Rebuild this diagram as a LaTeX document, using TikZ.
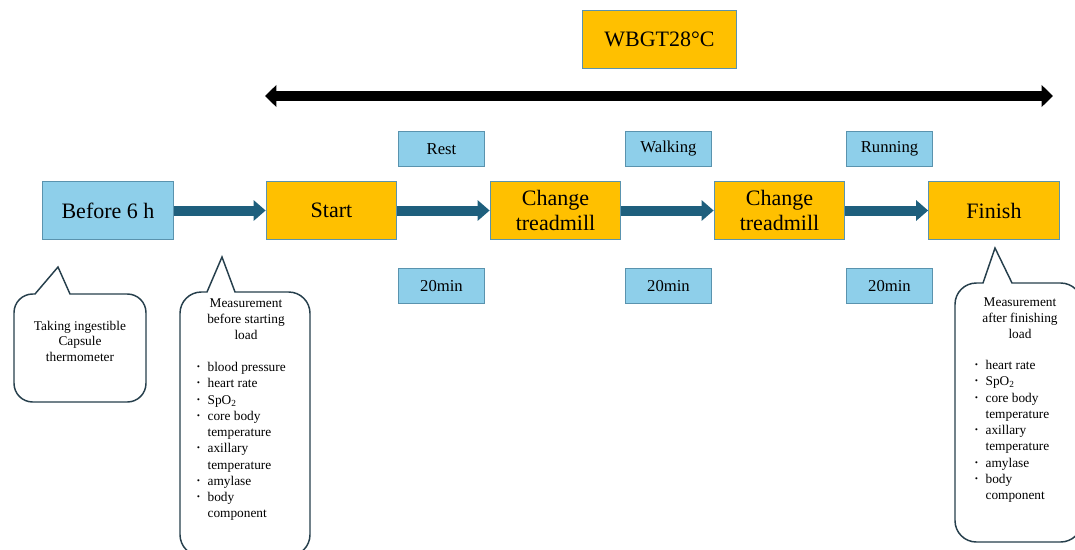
\documentclass[tikz,border=0pt]{standalone}
\usepackage{fontspec}
\setmainfont{Liberation Serif}
\usetikzlibrary{arrows.meta}
\definecolor{boxblue}{HTML}{8ECFEA}
\definecolor{boxyellow}{HTML}{FFC000}
\definecolor{edgeblue}{HTML}{5A93AE}
\definecolor{flowteal}{HTML}{1E5F7D}
\definecolor{bubbleline}{HTML}{263F4C}
\newcommand{\bul}{\makebox[10pt][l]{\hspace*{1pt}\raisebox{-0.8pt}{\fontsize{13}{12}\selectfont ·}}}
\newcommand{\cont}{\hspace*{10pt}}

\begin{document}
\begin{tikzpicture}[x=0.75pt, y=-0.75pt,
    stage/.style={draw=edgeblue, line width=0.8pt, fill=boxyellow, minimum width=98pt,
        minimum height=44pt, inner sep=0pt, align=center, font=\fontsize{16.5}{19}\selectfont},
    prestage/.style={stage, fill=boxblue},
    tag/.style={draw=edgeblue, line width=0.8pt, fill=boxblue, minimum width=64pt,
        minimum height=26pt, inner sep=0pt, font=\fontsize{12.5}{14}\selectfont},
    flow/.style={draw=flowteal, line width=7.5pt, -{Triangle[length=9pt, width=15pt]}},
    span/.style={draw=black, line width=7.5pt,
        {Triangle[length=8.5pt, width=16pt]}-{Triangle[length=8.5pt, width=16pt]}},
    bubble/.style={draw=bubbleline, line width=1.1pt, fill=white},
    note/.style={inner sep=0pt, align=center, font=\fontsize{10}{12}\selectfont},
    notelist/.style={inner sep=0pt, align=left, font=\fontsize{10}{12.2}\selectfont}]
\useasboundingbox (0,0) rectangle (1075,550);

% Condition on top
\node[stage, minimum width=116pt] (wbgt) at (659.5,39.5) {WBGT28°C};
\coordinate (spanL) at (265,96);
\coordinate (spanR) at (1053,96);
\draw[span] (spanL) -- (spanR);

% Time line
\node[prestage] (before) at (108,210.5) {Before 6 h};
\node[stage] (start) at (331.5,210.5) {Start};
\node[stage] (change1) at (555.5,210.5) {Change\\treadmill};
\node[stage] (change2) at (779.5,210.5) {Change\\treadmill};
\node[stage] (finish) at (994,210.5) {Finish};

\draw[flow] (before) -- (start);
\draw[flow] (start) -- (change1);
\draw[flow] (change1) -- (change2);
\draw[flow] (change2) -- (finish);

% Phases and durations
\node[tag] (rest) at (441.5,149) {Rest};
\node[tag] (walking) at (668.5,149) {Walking};
\node[tag] (running) at (889.5,149) {Running};
\node[tag] (restmin) at (441.5,286) {20min};
\node[tag] (walkmin) at (668.5,286) {20min};
\node[tag] (runmin) at (889.5,286) {20min};

% Callout: capsule
\draw[bubble, rounded corners=14pt] (70,294) -- (146,294) -- (146,402) -- (14,402)
    -- (14,294) [sharp corners] -- (35,294) -- (58,267) -- cycle;
\node[note, font=\fontsize{10}{11.6}\selectfont] (capsule) at (80,341)
    {Taking ingestible\\Capsule\\thermometer};

% Callout: before load
\draw[bubble, rounded corners=16pt] (235,292) -- (310,292) -- (310,556) -- (180,556)
    -- (180,292) [sharp corners] -- (207,292) -- (222,257) -- cycle;
\node[note] (premeas) at (246,319) {Measurement\\before starting\\load};
\node[notelist, anchor=north west] (prelist) at (194,362)
    {\bul blood pressure\\ \bul heart rate\\ \bul SpO\textsubscript{2}\\
     \bul core body\\ \cont temperature\\ \bul axillary\\ \cont temperature\\
     \bul amylase\\ \bul body\\ \cont component};

% Callout: after load
\draw[bubble, rounded corners=16pt] (1012,283) -- (1082,283) -- (1082,542) -- (955,542)
    -- (955,283) [sharp corners] -- (983,283) -- (995,248) -- cycle;
\node[note] (postmeas) at (1020,318) {Measurement\\after finishing\\load};
\node[notelist, anchor=north west] (postlist) at (972,360)
    {\bul heart rate\\ \bul SpO\textsubscript{2}\\ \bul core body\\ \cont temperature\\
     \bul axillary\\ \cont temperature\\ \bul amylase\\ \bul body\\ \cont component};
\end{tikzpicture}
\end{document}
